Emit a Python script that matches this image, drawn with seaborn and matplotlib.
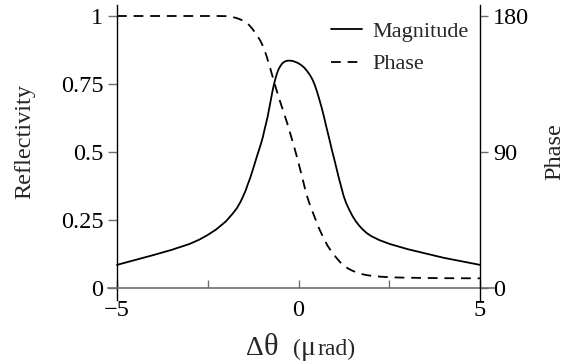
import matplotlib
matplotlib.use("Agg")
import matplotlib.pyplot as plt
import pandas as pd
import seaborn as sns

# Reflectivity magnitude versus angular offset (µrad)
theta_mag = [-5.0, -4.5, -4.0, -3.5, -3.0, -2.73, -2.5, -2.27, -2.0, -1.81,
             -1.70, -1.60, -1.53, -1.46, -1.40, -1.33, -1.26, -1.20, -1.15, -1.09,
             -1.03, -0.98, -0.94, -0.89, -0.85, -0.80, -0.75, -0.71, -0.67, -0.63,
             -0.59, -0.55, -0.50, -0.45, -0.40, -0.33, -0.25, -0.17, -0.08, 0.0,
             0.08, 0.16, 0.24, 0.32, 0.39, 0.45, 0.51, 0.57, 0.63, 0.69,
             0.75, 0.81, 0.87, 0.93, 0.99, 1.05, 1.11, 1.18, 1.24, 1.31,
             1.40, 1.49, 1.58, 1.68, 1.77, 1.88, 2.0, 2.23, 2.51, 3.0,
             3.5, 4.0, 4.5, 5.0]
magnitude = [0.085, 0.103, 0.121, 0.140, 0.162, 0.178, 0.195, 0.215, 0.245, 0.274,
             0.293, 0.316, 0.336, 0.357, 0.380, 0.405, 0.434, 0.460, 0.482, 0.507,
             0.532, 0.556, 0.580, 0.607, 0.630, 0.665, 0.700, 0.728, 0.752, 0.772,
             0.790, 0.804, 0.816, 0.825, 0.831, 0.835, 0.836, 0.835, 0.831, 0.826,
             0.819, 0.810, 0.797, 0.782, 0.765, 0.746, 0.722, 0.695, 0.667, 0.636,
             0.602, 0.569, 0.536, 0.502, 0.471, 0.438, 0.405, 0.370, 0.340, 0.313,
             0.287, 0.264, 0.245, 0.228, 0.215, 0.202, 0.191, 0.176, 0.162, 0.143,
             0.127, 0.111, 0.098, 0.085]

# Reflection phase (degrees)
theta_phase = [-5.0, -3.0, -2.2, -2.0, -1.9, -1.8, -1.7, -1.6, -1.52, -1.44,
               -1.36, -1.28, -1.2, -1.12, -1.05, -0.97, -0.89, -0.78, -0.66, -0.55,
               -0.43, -0.31, -0.20, -0.11, -0.02, 0.1, 0.21, 0.32, 0.44, 0.55,
               0.67, 0.80, 0.94, 1.05, 1.15, 1.25, 1.36, 1.48, 1.6, 1.73,
               1.86, 2.0, 2.2, 2.51, 3.0, 4.0, 5.0]
phase = [180.0, 180.0, 180.0, 179.9, 179.6, 179.2, 178.6, 177.7, 176.8, 175.6,
         174.0, 171.8, 169.2, 166.3, 163.6, 159.5, 154.2, 145.5, 135.4, 126.5,
         117.8, 109.0, 100.0, 92.5, 84.7, 73.5, 62.7, 54.5, 47.2, 40.3,
         34.0, 28.0, 23.0, 19.8, 17.0, 14.8, 13.0, 11.5, 10.3, 9.3,
         8.6, 8.1, 7.6, 7.1, 6.8, 6.5, 6.4]

x_ticks = [-5, -2.5, 0, 2.5, 5]
x_tick_labels = ["\u22125", "", "0", "", "5"]
refl_ticks = [0, 0.25, 0.5, 0.75, 1]
refl_tick_labels = ["0", "0.25", "0.5", "0.75", "1"]
phase_ticks = [0, 90, 180]
phase_tick_labels = ["0", "90", "180"]

sns.set_theme(style="white")
plt.rcParams["font.family"] = ["Liberation Serif", "DejaVu Serif"]

mag_df = pd.DataFrame({"theta": theta_mag, "magnitude": magnitude})
phase_df = pd.DataFrame({"theta": theta_phase, "phase": phase})

W, H = 564, 363
fig = plt.figure(figsize=(W / 100, H / 100), dpi=100)
fig.patch.set_facecolor("white")

# axes box spans a little past the data range so the frame lines overhang
ax = fig.add_axes([108 / W, 63 / H, 386 / W, 295 / H])
ax.set_facecolor("none")
x_lo, x_hi = -5 - 9 / 36.3, 5 + 14 / 36.3
y_lo, y_hi = -12 / 272, 283 / 272
ax.set_xlim(x_lo, x_hi)
ax.set_ylim(y_lo, y_hi)

tw = ax.twinx()
tw.set_ylim(y_lo * 180, y_hi * 180)

lw = 1.3
sns.lineplot(data=mag_df, x="theta", y="magnitude", ax=ax, color="black",
             linewidth=lw, label="Magnitude", legend=False)
sns.lineplot(data=phase_df, x="theta", y="phase", ax=tw, color="black",
             linewidth=lw, linestyle=(0, (5.4, 3.8)), label="Phase", legend=False)

grey = "#6e6e6e"
for sp in ["top", "right"]:
    ax.spines[sp].set_visible(False)
for sp in ["top", "left", "bottom"]:
    tw.spines[sp].set_visible(False)
ax.spines["left"].set_position(("data", -5))
ax.spines["left"].set_color("black")
ax.spines["left"].set_linewidth(1.0)
ax.spines["bottom"].set_position(("data", 0))
ax.spines["bottom"].set_color(grey)
ax.spines["bottom"].set_linewidth(1.2)
tw.spines["right"].set_position(("data", 5))
tw.spines["right"].set_color("black")
tw.spines["right"].set_linewidth(1.0)

ax.set_xticks(x_ticks)
ax.set_xticklabels(x_tick_labels)
ax.set_yticks(refl_ticks)
ax.set_yticklabels(refl_tick_labels)
tw.set_yticks(phase_ticks)
tw.set_yticklabels(phase_tick_labels)

ax.tick_params(axis="x", direction="in", length=5.8, width=1.0, color=grey,
               labelsize=17.5, pad=9, bottom=True, labelcolor="black")
ax.tick_params(axis="y", direction="out", length=6.3, width=1.0, color=grey,
               labelsize=17.5, pad=3.5, left=True, labelcolor="black")
tw.tick_params(axis="y", direction="out", length=6.0, width=1.0, color=grey,
               labelsize=17.5, pad=3.5, right=True, labelcolor="black")

ax.set_xlabel("")
ax.set_ylabel("")
tw.set_ylabel("")
ax.grid(False)
tw.grid(False)

fig.text(25 / W, 1 - 142 / H, "Reflectivity", rotation=90, ha="center",
         va="center", fontsize=17.5)
fig.text(555 / W, 1 - 152 / H, "Phase", rotation=90, ha="center",
         va="center", fontsize=17.5)

# x-axis label: large Δθ followed by the unit in parentheses
base = 1 - 355 / H
fig.text(246 / W, base, "\u0394", ha="left", va="baseline", fontsize=20)
fig.text(264 / W, base, "\u03b8", ha="left", va="baseline", fontsize=22)
fig.text(293 / W, base, "(", ha="left", va="baseline", fontsize=17)
fig.text(301 / W, base, "\u03bc", ha="left", va="baseline", fontsize=20)
fig.text(318 / W, base, "rad)", ha="left", va="baseline", fontsize=17)

handles = [ax.get_lines()[0], tw.get_lines()[0]]
tw.legend(handles=handles, labels=["Magnitude", "Phase"], frameon=False,
          loc="upper left", bbox_to_anchor=(331 / W, 1 - 21 / H),
          bbox_transform=fig.transFigure, fontsize=16, borderpad=0,
          borderaxespad=0, handlelength=1.4, handletextpad=0.45,
          labelspacing=0.55)

fig.savefig("out.png", dpi=100)
